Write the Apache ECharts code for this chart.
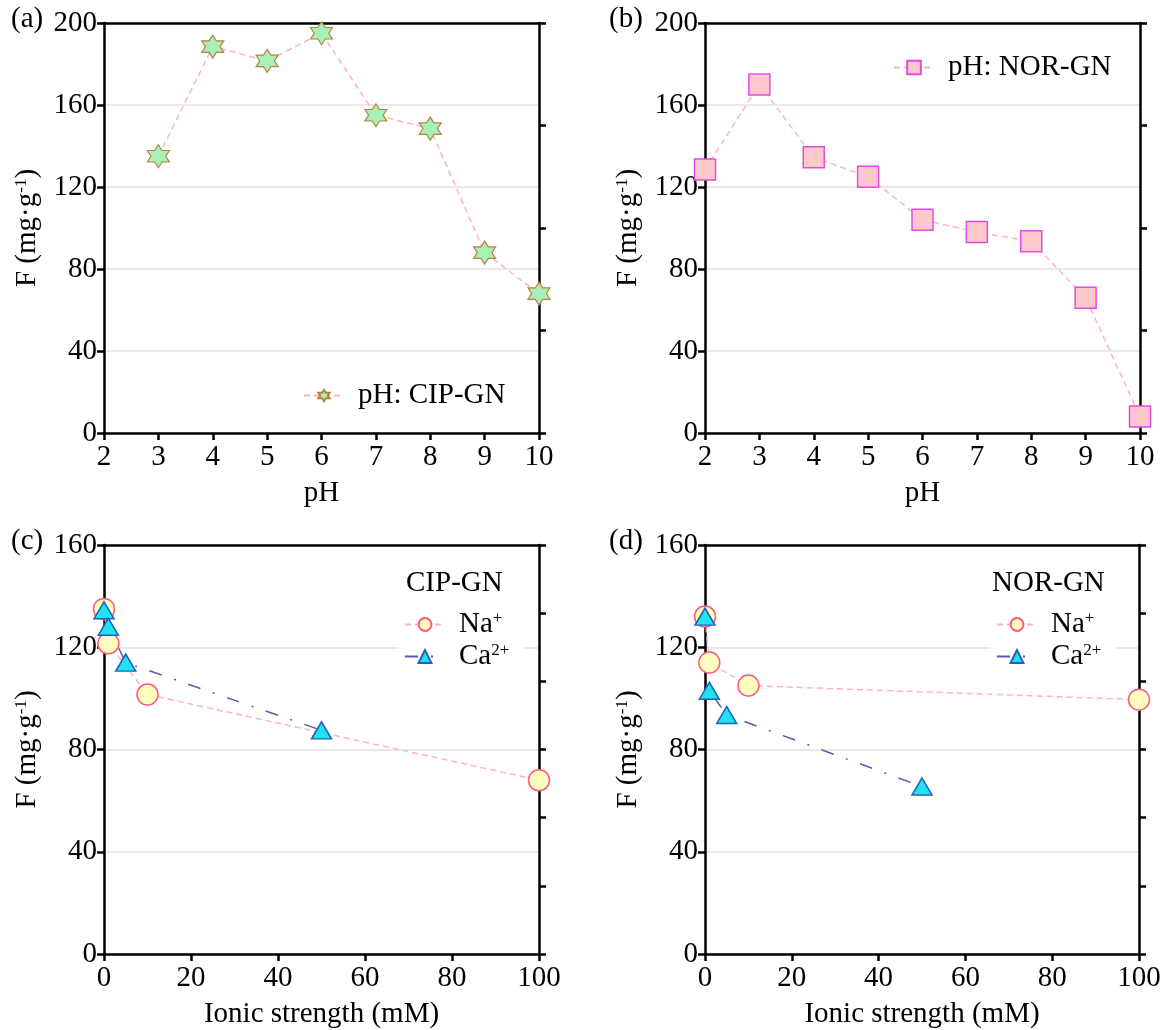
<!DOCTYPE html>
<html>
<head>
<meta charset="utf-8">
<script src="https://cdn.jsdelivr.net/npm/echarts@6/dist/echarts.min.js"></script>
<style>
html,body{margin:0;padding:0;background:#fff;}
#chart{width:1169px;height:1030px;}
</style>
</head>
<body>
<div id="chart"></div>
<script>
// ---------- data ----------
const phA = [3, 4, 5, 6, 7, 8, 9, 10];
const cipPH = [135, 188.5, 181.5, 195, 155, 148.5, 88, 68];
const phB = [2, 3, 4, 5, 6, 7, 8, 9, 10];
const norPH = [128.5, 170, 134.5, 125, 104, 98, 93.5, 66, 8];
const naX = [0, 1, 10, 100];
const caX = [0, 1, 5, 50];
const cipNa = [135, 121.5, 101.5, 68];
const cipCa = [134.5, 128, 114, 87.5];
const norNa = [132, 114, 105, 99.5];
const norCa = [132, 103, 93.5, 65.5];
const panelLabels = ['(a)', '(b)', '(c)', '(d)'];
const yName = 'F (mg·g{sup|-1})';

// ---------- helpers ----------
const FONT = '"Liberation Serif", "Times New Roman", serif';
const FS = 29;
const zip = (xs, ys) => xs.map((x, i) => [x, ys[i]]);
const hexagram = 'path://M0,-10L2.887,-5L8.66,-5L5.774,0L8.66,5L2.887,5L0,10L-2.887,5L-8.66,5L-5.774,0L-8.66,-5L-2.887,-5Z';

const grids = [
  {left: 104, top: 23, width: 435, height: 410},
  {left: 705, top: 23, width: 435, height: 410},
  {left: 104, top: 545, width: 435, height: 410},
  {left: 705, top: 545, width: 434, height: 410}
];
const xRanges = [[2, 10, 1], [2, 10, 1], [0, 100, 20], [0, 100, 20]];
const yRanges = [[0, 200, 40, 4], [0, 200, 40, 4], [0, 160, 40, 6], [0, 160, 40, 6]];
const xNames = ['pH', 'pH', 'Ionic strength (mM)', 'Ionic strength (mM)'];

const axisLine = {show: true, onZero: false, lineStyle: {color: '#000', width: 2.5}};
const axisTick = {show: true, length: 7, lineStyle: {color: '#000', width: 2.5}};
const labelStyle = {color: '#000', fontSize: FS, fontFamily: FONT};
const supRich = {sup: {fontSize: 17, fontFamily: FONT, color: '#000', verticalAlign: 'top', padding: [0, 0, 10, 0]}};

const xAxis = [], yAxis = [];
grids.forEach((g, i) => {
  const [xmin, xmax, xint] = xRanges[i];
  const [ymin, ymax, yint, rdiv] = yRanges[i];
  xAxis.push({
    type: 'value', gridIndex: i, position: 'bottom', min: xmin, max: xmax, interval: xint,
    axisLine, axisTick, splitLine: {show: false},
    axisLabel: Object.assign({margin: 10}, labelStyle),
    name: xNames[i], nameLocation: 'middle', nameGap: 46,
    nameTextStyle: {color: '#000', fontSize: FS, fontFamily: FONT}
  });
  xAxis.push({
    type: 'value', gridIndex: i, position: 'top', min: xmin, max: xmax,
    axisLine, axisTick: {show: false}, axisLabel: {show: false}, splitLine: {show: false}
  });
  yAxis.push({
    type: 'value', gridIndex: i, position: 'left', min: ymin, max: ymax, interval: yint,
    axisLine, axisTick,
    axisLabel: Object.assign({margin: 7}, labelStyle),
    splitLine: {show: true, lineStyle: {color: '#e2e2e2', width: 1.5}},
    name: yName, nameLocation: 'middle', nameGap: 62,
    nameTextStyle: {color: '#000', fontSize: FS, fontFamily: FONT, rich: supRich}
  });
  yAxis.push({
    type: 'value', gridIndex: i, position: 'right', min: 0, max: rdiv, interval: 1,
    axisLine, axisTick, axisLabel: {show: false}, splitLine: {show: false}
  });
});

const pinkLine = {color: '#ffb3c6', width: 1.5, type: [6, 4]};
const caLine = {color: '#5a5aa8', width: 1.5, type: [13, 13, 2, 13]};

const naStyle = {color: '#ffffc2', borderColor: '#ff5a7e', borderWidth: 1.5};
const caStyle = {color: '#22e2f0', borderColor: '#1f5fbf', borderWidth: 1.5};

const series = [
  {name: 'pH: CIP-GN', type: 'line', xAxisIndex: 0, yAxisIndex: 0, data: zip(phA, cipPH),
   symbol: hexagram, symbolSize: [22, 23],
   itemStyle: {color: '#a8f0b6', borderColor: '#b9803f', borderWidth: 1.2},
   lineStyle: pinkLine},
  {name: 'pH: NOR-GN', type: 'line', xAxisIndex: 2, yAxisIndex: 2, data: zip(phB, norPH),
   symbol: 'rect', symbolSize: 21,
   itemStyle: {color: '#ffc8cc', borderColor: '#e04ce0', borderWidth: 1.5},
   lineStyle: pinkLine},
  {name: 'Na+', type: 'line', xAxisIndex: 4, yAxisIndex: 4, data: zip(naX, cipNa),
   symbol: 'circle', symbolSize: 21, itemStyle: naStyle, lineStyle: pinkLine},
  {name: 'Ca2+', type: 'line', xAxisIndex: 4, yAxisIndex: 4, data: zip(caX, cipCa),
   symbol: 'triangle', symbolSize: [20, 17], itemStyle: caStyle, lineStyle: caLine, z: 3},
  {name: 'Na+ ', type: 'line', xAxisIndex: 6, yAxisIndex: 6, data: zip(naX, norNa),
   symbol: 'circle', symbolSize: 21, itemStyle: naStyle, lineStyle: pinkLine},
  {name: 'Ca2+ ', type: 'line', xAxisIndex: 6, yAxisIndex: 6, data: zip(caX, norCa),
   symbol: 'triangle', symbolSize: [20, 17], itemStyle: caStyle, lineStyle: caLine, z: 3}
];
series.forEach(s => { s.animation = false; s.showSymbol = true; });

const legendText = {color: '#000', fontSize: FS, fontFamily: FONT, padding: [0, 0, 0, 9], rich: supRich};
const ionFmt = n => n.trim() === 'Na+' ? 'Na{sup|+}' : 'Ca{sup|2+}';

const legend = [
  {data: ['pH: CIP-GN'], left: 298, top: 376, itemWidth: 40, itemHeight: 14,
   textStyle: legendText},
  {data: ['pH: NOR-GN'], left: 888, top: 48, itemWidth: 40, itemHeight: 17,
   textStyle: legendText},
  {data: ['Na+', 'Ca2+'], orient: 'vertical', left: 398, top: 605, itemWidth: 40, itemHeight: 16, itemGap: 3,
   backgroundColor: '#fff', padding: [5, 14, 5, 6], formatter: ionFmt, textStyle: legendText},
  {data: ['Na+ ', 'Ca2+ '], orient: 'vertical', left: 990, top: 605, itemWidth: 40, itemHeight: 16, itemGap: 3,
   backgroundColor: '#fff', padding: [5, 14, 5, 6], formatter: ionFmt, textStyle: legendText}
];

const graphic = [];
const labelPos = [[11, 23], [609, 23], [11, 545], [609, 545]];
panelLabels.forEach((t, i) => {
  graphic.push({type: 'text', left: labelPos[i][0], top: labelPos[i][1] - 18,
    style: {text: t, fontSize: FS, fontFamily: FONT, fill: '#000'}});
});
graphic.push({type: 'text', left: 406, top: 569, style: {text: 'CIP-GN', fontSize: FS, fontFamily: FONT, fill: '#000'}});
graphic.push({type: 'text', left: 992, top: 569, style: {text: 'NOR-GN', fontSize: FS, fontFamily: FONT, fill: '#000'}});

const chart = echarts.init(document.getElementById('chart'), null, {renderer: 'canvas'});
chart.setOption({
  backgroundColor: '#fff',
  animation: false,
  grid: grids.map(g => Object.assign({containLabel: false}, g)),
  xAxis, yAxis, series, legend, graphic
});
</script>
</body>
</html>
